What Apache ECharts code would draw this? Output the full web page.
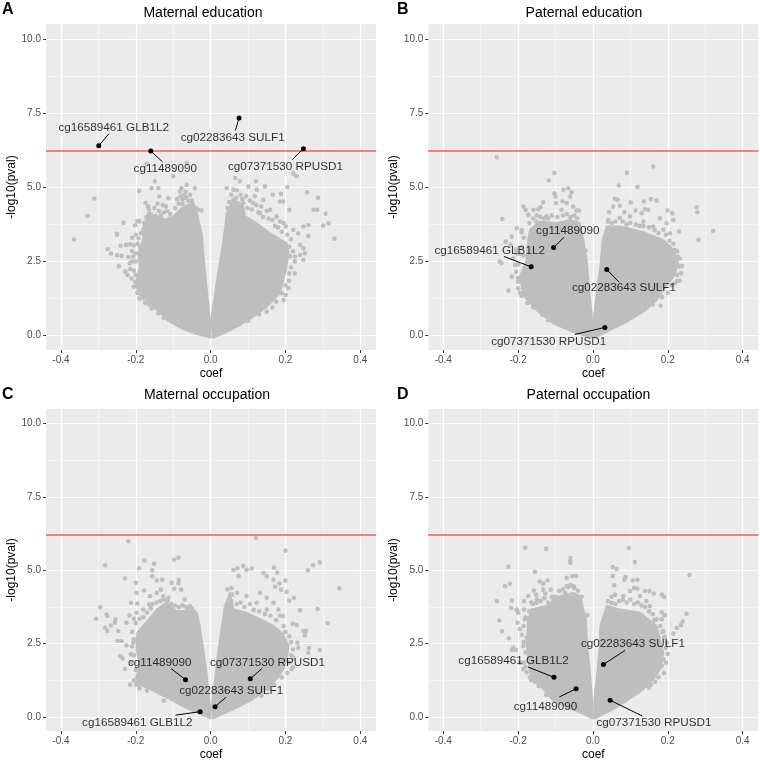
<!DOCTYPE html>
<html>
<head>
<meta charset="utf-8">
<script src="https://cdn.jsdelivr.net/npm/echarts@6/dist/echarts.min.js"></script>
<style>html,body{margin:0;padding:0;background:#fff}#c{width:760px;height:762px}</style>
</head>
<body>
<div id="c"></div>
<script>
// ---- shared values
const xTicks = [-0.4, -0.2, 0, 0.2, 0.4];
const xMinor = [-0.3, -0.1, 0.1, 0.3];
const yTicks = [0, 2.5, 5, 7.5, 10];
const yMinor = [1.25, 3.75, 6.25, 8.75];
const threshold = 6.22;
const panelTitles = ['Maternal education', 'Paternal education', 'Maternal occupation', 'Paternal occupation'];
const panelLetters = ['A', 'B', 'C', 'D'];

// ---- Panel A: dense mass outline (coef, -log10 p) and individually visible points
const denseA = [
 [[0,-.06],[-.037,.06],[-.078,.25],[-.113,.51],[-.144,.87],[-.171,1.2],[-.193,1.43],[-.2,1.77],[-.189,2.33],[-.193,2.78],[-.18,3.23],[-.18,3.68],[-.167,4.13],[-.144,4.02],[-.118,3.9],[-.1,4.02],[-.091,4.13],[-.073,4.35],[-.046,4.47],[-.037,4.13],[-.024,3.45],[-.018,2.55],[-.011,1.65],[-.002,.53]],
 [[.002,.53],[.012,1.43],[.02,2.1],[.029,2.78],[.038,3.57],[.043,4.13],[.061,4.58],[.087,4.35],[.092,4.02],[.123,3.79],[.159,3.45],[.203,3.12],[.208,2.78],[.203,2.33],[.194,1.88],[.185,1.43],[.15,.98],[.114,.64],[.078,.36],[.043,.13],[.007,-.06]]
];
const pointsA = [[-.365,3.24],[-.329,4.04],[-.311,4.62],[-.275,2.92],[-.266,2.77],[-.251,3.43],[-.25,3.4],[-.233,3.81],[-.25,2.71],[-.241,3.03],[-.245,2.34],[-.238,2.69],[-.228,2.16],[-.222,2.05],[-.211,1.93],[-.226,3.06],[-.215,3.08],[-.202,3.72],[-.196,3.86],[-.191,3.86],[-.18,3.57],[-.191,4.88],[-.171,5.79],[-.149,5.2],[-.158,4.97],[-.14,4.97],[-.174,4.47],[-.167,4.35],[-.137,4.69],[-.113,4.63],[-.1,5.37],[-.078,4.97],[-.064,5.82],[-.042,4.97],[-.064,5.08],[-.033,4.24],[-.024,4.22],[-.082,4.86],[-.067,4.86],[-.207,2.67],[-.216,2.44],[-.205,2.19],[-.202,1.82],[-.196,1.45],[-.18,1.26],[-.158,.92],[-.113,.55],[-.193,3.28],[-.189,3],[-.2,2.78],
 [.331,3.27],[.315,3.79],[.307,4.11],[.301,3.71],[.287,4.65],[.275,4.24],[.285,4.24],[.261,3.73],[.248,3.68],[.258,4.83],[.23,5.37],[.221,5.46],[.205,5.01],[.21,4.24],[.188,4.78],[.166,4.75],[.145,5.03],[.123,4.92],[.121,5.2],[.101,5.03],[.078,5.2],[.065,5.31],[.043,4.97],[.061,4.92],[.185,4.52],[.194,4.52],[.201,3.68],[.221,3.57],[.234,3.45],[.261,3.36],[.239,3.06],[.248,2.95],[.252,2.78],[.248,2.55],[.225,2.1],[.208,1.6],[.201,1.37],[.19,1.43],[.15,.81],[.212,2.67],[.225,2.67],[.239,2.72],[.141,4.58],[.114,4.47],[.087,4.47],[.159,4.24],[.132,4.13],[.176,4.02],[.185,3.85],[.061,4.58],
 [-.186,3.45],[-.178,3.8],[-.172,4],[-.165,4.25],[-.16,4.1],[-.155,3.9],[-.15,4.3],[-.148,4.05],[-.142,4.45],[-.138,4.2],[-.133,4.05],[-.128,4.4],[-.125,4.15],[-.12,4.35],[-.115,4.2],[-.108,4.1],[-.09,4.6],[-.085,4.45],[-.08,4.7],[-.075,4.6],[-.07,4.75],[-.065,4.65],[-.06,4.55],[-.055,4.75],[-.05,4.55],[-.05,4.35],[-.04,4.3],[-.075,4.45],[-.095,4.3],[-.11,3.95],[-.16,3.75],[-.17,3.5],[-.2,3.4],[-.21,3.3],[-.205,3.05],[-.195,3.1],[-.21,2.85],[-.22,2.65],[-.21,2.5],[-.2,2.5],[-.215,2.25],[-.2,2.05],[-.205,1.65],[-.19,1.25],[-.175,1.1],[-.165,1.05],[-.14,.75],[-.125,.6],
 [.045,4.3],[.05,4.5],[.055,4.75],[.06,4.3],[.068,4.65],[.07,4.9],[.075,4.45],[.08,4.75],[.085,4.6],[.095,4.7],[.098,4.3],[.105,4.55],[.11,4.25],[.118,4.7],[.122,4.4],[.128,4.15],[.135,4.35],[.14,4],[.15,4.2],[.155,3.95],[.165,3.9],[.172,3.7],[.18,3.65],[.19,3.5],[.195,3.8],[.205,3.4],[.215,3.25],[.21,3],[.22,2.85],[.225,2.5],[.215,2.3],[.21,2.1],[.21,1.85],[.2,1.7],[.195,1.2],[.175,1.15],[.165,.95],[.13,.72],[.1,.5]];

// ---- Panel B
const denseB = [
 [[0,-.06],[-.044,.08],[-.061,.17],[-.106,.42],[-.151,.87],[-.186,1.37],[-.195,1.99],[-.177,2.55],[-.173,3.23],[-.168,3.57],[-.142,3.85],[-.097,3.79],[-.061,3.9],[-.035,3.79],[-.026,3.23],[-.017,2.55],[-.01,1.54],[-.002,.53]],
 [[.002,.53],[.01,1.43],[.02,2.33],[.026,3.23],[.037,3.68],[.072,3.68],[.108,3.57],[.143,3.45],[.188,3.23],[.215,2.89],[.228,2.44],[.215,1.99],[.188,1.54],[.17,1.2],[.135,.81],[.09,.47],[.045,.19],[.005,-.06]]
];
const pointsB = [[-.257,6.01],[-.242,3.93],[-.186,4.35],[-.18,4.24],[-.173,4.07],[-.159,4.24],[-.146,4.26],[-.133,4.5],[-.14,4.33],[-.118,5.23],[-.103,5.48],[-.103,4.8],[-.1,4.69],[-.099,4.47],[-.079,4.92],[-.066,4.97],[-.057,4.83],[-.061,4.69],[-.081,4.52],[-.07,4.47],[-.084,4.24],[-.053,4.35],[-.044,4.22],[-.037,4.22],[-.204,3.62],[-.217,3.34],[-.233,3.17],[-.22,3.06],[-.191,3.49],[-.249,2.5],[-.244,2.44],[-.213,2.61],[-.208,2.39],[-.217,1.99],[-.2,1.82],[-.226,1.52],[-.191,1.34],[-.204,2.78],[-.124,4.02],[-.151,3.85],[-.02,2.87],
 [.161,5.7],[.091,5.49],[.119,5.01],[.069,5.06],[.059,4.61],[.066,4.58],[.072,4.38],[.101,4.49],[.136,4.52],[.155,4.6],[.17,4.55],[.043,4.16],[.054,4.35],[.084,4.16],[.114,4.22],[.13,4.13],[.139,4.26],[.148,4.24],[.199,4.22],[.212,4.13],[.179,3.96],[.099,4.02],[.072,3.96],[.041,3.9],[.277,4.33],[.279,4.16],[.321,3.53],[.282,3.23],[.23,3.51],[.215,3.9],[.197,3.79],[.206,3.45],[.219,2.89],[.226,2.67],[.23,2.33],[.232,1.85],[.225,2.05],[.219,1.77],[.181,1.01],[.161,3.68],[.188,3.57],[.135,3.85],
 [-.17,3.8],[-.16,3.95],[-.15,4.05],[-.14,4],[-.13,3.95],[-.12,3.95],[-.11,4.05],[-.095,4],[-.08,4.05],[-.07,4.1],[-.06,4],[-.05,4.05],[-.042,3.95],[-.185,3.3],[-.19,3],[-.195,2.75],[-.185,2.7],[-.2,2.4],[-.205,2.15],[-.2,1.95],[-.2,1.6],[-.195,1.45],[-.175,1.1],[-.16,.95],[-.135,.7],[-.12,.52],[-.205,2.9],[-.19,3.55],
 [.04,3.85],[.05,3.8],[.06,3.85],[.08,3.85],[.09,3.75],[.1,3.8],[.115,3.75],[.125,3.7],[.135,3.7],[.15,3.65],[.165,3.55],[.175,3.45],[.195,3.4],[.205,3.2],[.215,3.1],[.225,2.85],[.232,2.6],[.238,2.35],[.236,2.1],[.225,1.85],[.21,1.7],[.2,1.45],[.185,1.3],[.16,1.05]];

// ---- Panel C
const denseC = [
 [[0,-.05],[-.037,.16],[-.069,.33],[-.109,.61],[-.144,.84],[-.18,1.06],[-.202,1.06],[-.198,1.4],[-.189,1.74],[-.198,2.31],[-.196,2.87],[-.18,3.1],[-.144,3.66],[-.118,3.89],[-.091,3.61],[-.064,3.61],[-.037,3.55],[-.029,3.1],[-.02,2.31],[-.011,1.52],[-.002,.38]],
 [[.003,.38],[.012,1.29],[.02,2.19],[.029,2.99],[.038,3.78],[.052,4.23],[.061,3.66],[.096,3.55],[.132,3.33],[.168,3.1],[.194,2.82],[.208,2.42],[.203,1.97],[.194,1.63],[.176,1.29],[.141,.84],[.105,.55],[.061,.27],[.007,-.05]]
];
const pointsC = [[-.306,3.35],[-.295,3.74],[-.282,5.17],[-.278,3.49],[-.276,3.44],[-.282,3.04],[-.276,2.93],[-.267,3.12],[-.256,3.21],[-.254,3.33],[-.247,2.93],[-.249,2.59],[-.238,2.59],[-.225,2.44],[-.241,2.08],[-.235,1.99],[-.229,1.63],[-.213,2.14],[-.207,2.53],[-.202,2.59],[-.225,3.21],[-.217,3.46],[-.205,3.35],[-.198,3.55],[-.213,3.89],[-.196,3.87],[-.178,4.31],[-.198,4.23],[-.229,4.72],[-.2,4.57],[-.22,5.99],[-.191,5.07],[-.177,5.33],[-.151,5.22],[-.156,5],[-.156,4.8],[-.144,4.65],[-.129,4.68],[-.097,5.36],[-.086,5.43],[-.104,4.57],[-.085,4.68],[-.086,4.55],[-.097,4.37],[-.079,4.34],[-.133,4.34],[-.144,4.23],[-.162,4.12],[-.127,4.12],[-.069,4],[-.113,4.06],[-.18,3.66],[-.164,3.83],[-.055,3.78],[-.06,3.66],
 [.121,6.1],[.2,5.67],[.061,5.02],[.072,5.07],[.087,5.15],[.096,5.02],[.075,4.8],[.11,5.06],[.169,5.09],[.178,4.92],[.141,4.91],[.15,4.8],[.168,4.68],[.2,4.65],[.184,4.55],[.172,4.44],[.188,4.34],[.203,4.26],[.21,3.97],[.223,4.06],[.239,3.64],[.26,5],[.274,5.17],[.292,5.27],[.344,4.39],[.286,3.68],[.313,3.2],[.219,3.18],[.23,3.13],[.248,2.93],[.255,2.93],[.252,2.78],[.263,2.35],[.292,2.28],[.261,2.19],[.232,2.53],[.234,2.36],[.221,2.02],[.217,1.63],[.056,4.4],[.058,4.17],[.071,4.23],[.096,4.12],[.132,4.23],[.15,4.06],[.168,3.89],[.181,3.66],[.123,3.89],[.194,3.44],[.15,3.66],[.136,.72],
 [-.2,3.2],[-.19,3.35],[-.18,3.4],[-.17,3.55],[-.16,3.7],[-.155,3.85],[-.145,3.9],[-.135,3.95],[-.125,4],[-.115,3.95],[-.105,3.85],[-.095,3.8],[-.085,3.75],[-.075,3.8],[-.065,3.75],[-.05,3.7],[-.045,3.6],[-.21,2.9],[-.205,2.65],[-.21,2.4],[-.205,2.1],[-.21,1.85],[-.2,1.6],[-.205,1.25],[-.215,1.1],[-.19,.98],[-.17,.9],[-.125,.55],
 [.045,4.35],[.05,4],[.055,3.95],[.07,3.85],[.08,3.9],[.09,3.75],[.105,3.85],[.115,3.65],[.13,3.6],[.145,3.5],[.16,3.45],[.175,3.3],[.185,3.45],[.195,3.1],[.2,2.9],[.21,2.75],[.215,2.55],[.22,2.3],[.215,2.1],[.21,1.85],[.22,1.7],[.205,1.5],[.19,1.35],[.17,1.1],[.155,.95]];

// ---- Panel D
const denseD = [
 [[0,-.05],[-.035,.16],[-.07,.33],[-.106,.55],[-.133,.95],[-.155,1.23],[-.168,1.52],[-.173,1.97],[-.177,2.53],[-.173,3.33],[-.164,3.66],[-.124,3.78],[-.088,4.12],[-.053,4.23],[-.035,4.12],[-.019,3.33],[-.015,2.42],[-.008,1.52],[-.002,.5]],
 [[.003,.5],[.01,1.29],[.017,2.19],[.02,3.1],[.037,3.78],[.072,3.66],[.126,3.55],[.17,3.1],[.179,2.65],[.188,2.19],[.179,1.63],[.161,1.29],[.135,.95],[.09,.55],[.045,.21],[.005,-.05]]
];
const pointsD = [[-.181,5.77],[-.125,5.73],[-.226,5.12],[-.155,4.95],[-.235,4.46],[-.222,4.54],[-.257,3.95],[-.217,3.97],[-.219,3.71],[-.204,3.66],[-.2,3.55],[-.25,3.29],[-.243,2.92],[-.202,3.21],[-.195,2.99],[-.225,2.68],[-.213,2.36],[-.217,2.28],[-.206,2.28],[-.184,3.95],[-.182,3.33],[-.184,3.66],[-.177,2.7],[-.186,2.42],[-.195,1.85],[-.186,1.63],[-.168,1.35],[-.155,1.2],[-.177,1.52],[-.158,4.31],[-.152,4.17],[-.173,4.12],[-.142,4.62],[-.133,4.55],[-.121,4.66],[-.133,4.34],[-.113,4.34],[-.127,4.21],[-.07,4.74],[-.06,5.42],[-.061,5.31],[-.06,5.25],[-.045,4.81],[-.055,4.8],[-.053,4.46],[-.066,4.43],[-.075,4.23],[-.035,4],[-.015,3.47],[-.151,3.89],[-.106,4],
 [.096,5.76],[.112,5.28],[.053,5.11],[.063,5.05],[.053,4.8],[.087,4.77],[.084,4.68],[.106,4.65],[.119,4.68],[.057,4.49],[.11,4.4],[.119,4.37],[.099,4.29],[.139,4.29],[.151,4.29],[.163,4.21],[.184,4.17],[.191,4.09],[.059,4.17],[.081,4.12],[.05,3.89],[.126,4.12],[.143,3.95],[.152,3.78],[.184,3.57],[.192,3.47],[.184,3.33],[.258,4.84],[.25,3.52],[.24,3.25],[.235,3.13],[.224,3.03],[.215,2.84],[.188,2.92],[.192,2.73],[.197,2.53],[.188,1.97],[.184,1.74],[.17,1.51],[.166,1.2],[.175,2.42],[.17,3.33],
 [-.18,3.4],[-.17,3.6],[-.165,3.9],[-.16,3.85],[-.15,4],[-.14,3.95],[-.13,4.05],[-.12,3.9],[-.11,4.1],[-.1,4.1],[-.09,4.3],[-.08,4.35],[-.07,4.45],[-.06,4.5],[-.05,4.4],[-.04,4.3],[-.03,4.1],[-.185,3.1],[-.19,2.8],[-.185,2.55],[-.18,2.2],[-.185,1.85],[-.18,1.7],[-.165,1.25],[-.145,1.05],[-.125,.75],
 [.04,3.95],[.05,4.1],[.06,3.85],[.07,3.95],[.08,4],[.09,3.9],[.1,4],[.11,3.85],[.12,3.9],[.13,3.8],[.14,3.75],[.15,3.6],[.16,3.5],[.165,3.3],[.18,3.1],[.185,2.9],[.19,2.7],[.195,2.35],[.2,2.15],[.195,1.85],[.19,1.5],[.175,1.35],[.155,1.1],[.15,1],[.12,.85]];

// ---- Annotated CpGs: name, value, leader end, label centre
const hitsA = [
 ['cg16589461 GLB1L2', [-.299,6.40], [-.272,6.80], [-.259,7.01]],
 ['cg11489090',        [-.160,6.22], [-.128,5.85], [-.121,5.61]],
 ['cg02283643 SULF1',  [.076,7.33],  [.066,6.91],  [.059,6.67]],
 ['cg07371530 RPUSD1', [.248,6.30],  [.218,5.93],  [.200,5.69]]
];
const hitsB = [
 ['cg16589461 GLB1L2', [-.165,2.32], [-.238,2.67], [-.276,2.86]],
 ['cg11489090',        [-.105,2.97], [-.077,3.32], [-.067,3.53]],
 ['cg02283643 SULF1',  [.037,2.23],  [.069,1.82],  [.083,1.60]],
 ['cg07371530 RPUSD1', [.032,.28],   [-.048,.045], [-.118,-.19]]
];
const hitsC = [
 ['cg11489090',        [-.067,1.27], [-.106,1.65], [-.136,1.84]],
 ['cg07371530 RPUSD1', [.106,1.30],  [.138,1.66],  [.152,1.86]],
 ['cg02283643 SULF1',  [.012,.35],   [.041,.67],   [.055,.88]],
 ['cg16589461 GLB1L2', [-.028,.18],  [-.094,.06],  [-.196,-.19]]
];
const hitsD = [
 ['cg16589461 GLB1L2', [-.104,1.35], [-.173,1.70], [-.212,1.91]],
 ['cg11489090',        [-.045,.96],  [-.09,.68],   [-.127,.35]],
 ['cg02283643 SULF1',  [.028,1.79],  [.086,2.27],  [.107,2.48]],
 ['cg07371530 RPUSD1', [.046,.57],   [.132,.03],   [.163,-.19]]
];

const panelDense = [denseA, denseB, denseC, denseD];
const panelPoints = [pointsA, pointsB, pointsC, pointsD];
const panelHits = [hitsA, hitsB, hitsC, hitsD];

// ---- layout
const FONT = '"Liberation Sans", Arial, sans-serif';
const GREY = '#BEBEBE';
const boxes = [
 {left:46, top:24, width:330, height:326, titleX:203, titleY:6, letterX:2, letterY:2},
 {left:428.3, top:24, width:330, height:326, titleX:584, titleY:6, letterX:397, letterY:2},
 {left:46, top:409, width:330, height:323.3, titleX:207, titleY:388, letterX:2, letterY:387},
 {left:428.3, top:409, width:330, height:323.3, titleX:588.5, titleY:388, letterX:397, letterY:387}
];

const grid = [], xAxis = [], yAxis = [], series = [], title = [];
boxes.forEach((b, i) => {
  grid.push({left:b.left, top:b.top, width:b.width, height:b.height, show:true, backgroundColor:'#EBEBEB', borderWidth:0});
  title.push({text:panelTitles[i], left:b.titleX, top:b.titleY, padding:0, textAlign:'center', textStyle:{fontFamily:FONT, fontSize:14, fontWeight:'normal', color:'#000'}});
  title.push({text:panelLetters[i], left:b.letterX, top:b.letterY, padding:0, textStyle:{fontFamily:FONT, fontSize:16, fontWeight:'bold', color:'#000'}});
  xAxis.push({type:'value', gridIndex:i, position:'bottom', min:-0.44, max:0.442, name:'coef', nameLocation:'middle', nameGap:18,
    nameTextStyle:{fontFamily:FONT, fontSize:12, color:'#000'},
    axisLine:{show:false, onZero:false},
    axisTick:{show:true, length:3, lineStyle:{color:'#333', width:1}, customValues:xTicks},
    axisLabel:{show:true, color:'#4D4D4D', fontFamily:FONT, fontSize:10, margin:5, customValues:xTicks, formatter:v=>v.toFixed(1)},
    splitLine:{show:true, lineStyle:{color:'#fff', width:1.2}}});
  yAxis.push({type:'value', gridIndex:i, position:'left', min:-0.48, max:10.5, name:'-log10(pval)', nameLocation:'middle', nameGap:28,
    nameTextStyle:{fontFamily:FONT, fontSize:12, color:'#000'},
    axisLine:{show:false, onZero:false},
    axisTick:{show:true, length:3, lineStyle:{color:'#333', width:1}, customValues:yTicks},
    axisLabel:{show:true, color:'#4D4D4D', fontFamily:FONT, fontSize:10, margin:5, customValues:yTicks, formatter:v=>v.toFixed(1)},
    splitLine:{show:true, lineStyle:{color:'#fff', width:1.2}}});

  // minor gridlines
  series.push({type:'line', xAxisIndex:i, yAxisIndex:i, data:[], z:1, silent:true,
    markLine:{silent:true, symbol:'none', label:{show:false}, animation:false, z:1,
      lineStyle:{color:'#F7F7F7', width:0.8, type:'solid'},
      data:xMinor.map(v=>({xAxis:v})).concat(yMinor.map(v=>({yAxis:v})))}});

  // dense mass of points: one filled outline per lobe
  panelDense[i].forEach(outline => {
    series.push({type:'custom', xAxisIndex:i, yAxisIndex:i, data:outline, z:2, silent:true,
      encode:{x:0, y:1},
      renderItem:(params, api) => {
        if (params.dataIndex !== 0) return null;
        return {type:'polygon', shape:{points:outline.map(p => api.coord(p))},
          style:{fill:GREY, stroke:GREY, lineWidth:2, lineJoin:'round'}};
      }});
  });

  series.push({type:'scatter', xAxisIndex:i, yAxisIndex:i, data:panelPoints[i], symbolSize:4.6, z:3, silent:true,
    itemStyle:{color:GREY, opacity:1}});

  // significance threshold
  series.push({type:'line', xAxisIndex:i, yAxisIndex:i, data:[], z:4, silent:true,
    markLine:{silent:true, symbol:'none', label:{show:false}, animation:false, z:4,
      lineStyle:{color:'#F0595F', width:1.5, type:'solid'}, data:[{yAxis:threshold}]}});

  panelHits[i].forEach(h => {
    series.push({type:'line', xAxisIndex:i, yAxisIndex:i, data:[h[1], h[2]], showSymbol:false, symbol:'none', z:5, silent:true,
      lineStyle:{color:'#000', width:1}});
  });
  series.push({type:'scatter', xAxisIndex:i, yAxisIndex:i, data:panelHits[i].map(h=>h[1]), symbolSize:5, z:6, silent:true,
    itemStyle:{color:'#000', opacity:1}});
  series.push({type:'scatter', xAxisIndex:i, yAxisIndex:i, symbolSize:2, z:7, silent:true,
    data:panelHits[i].map(h=>({name:h[0], value:h[3]})),
    itemStyle:{color:'transparent'},
    labelLayout:{hideOverlap:false},
    label:{show:true, position:'inside', formatter:p=>p.name, color:'#000', fontFamily:FONT, fontSize:11.7}});
});

const chart = echarts.init(document.getElementById('c'), null, {renderer:'canvas'});
chart.setOption({animation:false, backgroundColor:'#fff', title, grid, xAxis, yAxis, series});
</script>
</body>
</html>
